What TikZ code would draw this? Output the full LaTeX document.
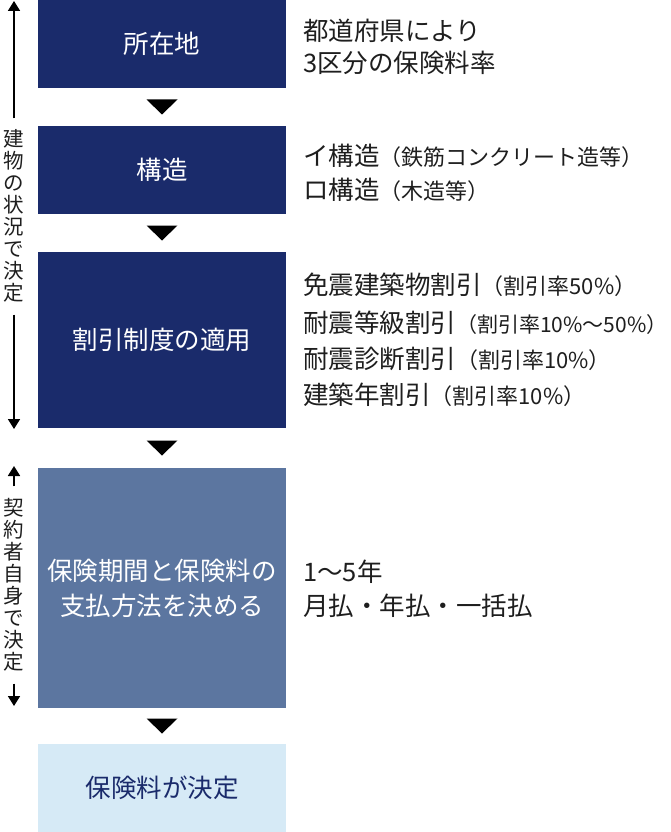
\documentclass[tikz,border=0pt]{standalone}
\usepackage{fontspec}
\setmainfont{Noto Sans CJK JP}
\usetikzlibrary{arrows.meta,calc}
\definecolor{navy}{RGB}{26,43,107}
\definecolor{slate}{RGB}{92,118,160}
\definecolor{pale}{RGB}{214,234,246}
\definecolor{ink}{RGB}{30,30,30}
\newcommand\smtxt[1]{{\fontsize{22}{22}\selectfont #1}}
\begin{document}
\begin{tikzpicture}[x=1pt,y=-1pt,
  box/.style={minimum width=248pt,inner sep=0pt,align=center,
    font=\fontsize{25.5}{35}\selectfont},
  rtext/.style={anchor=west,inner sep=0pt,text=ink,font=\fontsize{25.5}{30}\selectfont},
  vtext/.style={inner sep=0pt,align=center,text=ink,font=\fontsize{20.5}{22}\selectfont},
  down/.style={fill=black},
  arr/.style={line width=1.8pt,draw=black,-{Triangle[width=12pt,length=10pt]}}]
\useasboundingbox (0,0) rectangle (670,832);
% boxes
\node[box,fill=navy,text=white,minimum height=88pt] (b1) at (162,44) {所在地};
\node[box,fill=navy,text=white,minimum height=88pt] (b2) at (162,170) {構造};
\node[box,fill=navy,text=white,minimum height=176pt] (b3) at (162,340) {割引制度の適用};
\node[box,fill=slate,text=white,minimum height=240pt] (b4) at (162,588) {保険期間と保険料の\\支払方法を決める};
\node[box,fill=pale,text=navy,minimum height=88pt] (b5) at (162,788) {保険料が決定};
% triangles between boxes
\foreach \a/\b in {b1/b2,b2/b3,b3/b4,b4/b5}{
  \coordinate (m) at ($(\a.south)!0.5!(\b.north)$);
  \fill[down] ($(m)+(-15.5,-7.5)$) -- ($(m)+(15.5,-7.5)$) -- ($(m)+(0,7.5)$) -- cycle;
}
% right texts
\node[rtext] (r1a) at (303,31) {都道府県により};
\node[rtext] (r1b) at (303,63) {3区分の保険料率};
\node[rtext] (r2a) at (303,156) {イ構造\smtxt{（鉄筋コンクリート造等）}};
\node[rtext] (r2b) at (303,190) {ロ構造\smtxt{（木造等）}};
\node[rtext] (r3a) at (303,285) {免震建築物割引\smtxt{（割引率50\%）}};
\node[rtext] (r3b) at (303,323) {耐震等級割引{\fontsize{21}{22}\selectfont （割引率10\%〜50\%）}};
\node[rtext] (r3c) at (303,359) {耐震診断割引\smtxt{（割引率10\%）}};
\node[rtext] (r3d) at (303,395) {建築年割引\smtxt{（割引率10\%）}};
\node[rtext] (r4a) at (303,572) {1〜5年};
\node[rtext] (r4b) at (303,606) {月払・年払・一括払};
% left vertical labels
\node[vtext] (v1) at (14,216) {建\\物\\の\\状\\況\\で\\決\\定};
\node[vtext] (v2) at (14,585) {契\\約\\者\\自\\身\\で\\決\\定};
\coordinate (t1) at (14,1);
\coordinate (t2) at (14,429);
\coordinate (t3) at (14,466);
\coordinate (t4) at (14,706);
\draw[arr] ($(v1.north)+(0,-11)$) -- (t1);
\draw[arr] ($(v1.south)+(0,12)$) -- (t2);
\draw[arr] ($(v2.north)+(0,-12)$) -- (t3);
\draw[arr] ($(v2.south)+(0,12)$) -- (t4);
\end{tikzpicture}
\end{document}
